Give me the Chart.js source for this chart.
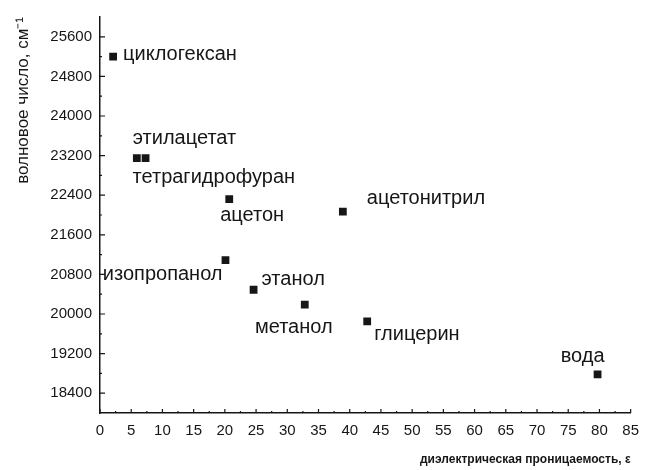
<!DOCTYPE html>
<html>
<head>
<meta charset="utf-8">
<script src="https://cdn.jsdelivr.net/npm/chart.js@4.4.1/dist/chart.umd.min.js"></script>
<style>
  html, body { margin: 0; padding: 0; background: #fff; }
  canvas { display: block; }
</style>
</head>
<body>
<canvas id="myChart" width="648" height="470"></canvas>
<script>
// solvents, dielectric constant and absorption band position
const solvents = ['циклогексан', 'этилацетат', 'тетрагидрофуран', 'ацетон', 'ацетонитрил',
                  'изопропанол', 'этанол', 'метанол', 'глицерин', 'вода'];
const dielectric = [2.1, 5.9, 7.3, 20.7, 38.9, 20.1, 24.6, 32.8, 42.8, 79.7];
const wavenumber = [25200, 23150, 23150, 22320, 22070, 21090, 20490, 20190, 19850, 18780];

const xTicks = [0, 5, 10, 15, 20, 25, 30, 35, 40, 45, 50, 55, 60, 65, 70, 75, 80, 85];
const yTicks = [18400, 19200, 20000, 20800, 21600, 22400, 23200, 24000, 24800, 25600];

// where each label sits relative to its marker: [dx, dy, align]
const labelPlace = [
    [10, -2, 'left'],
    [-4, -20, 'left'],
    [-13, 19, 'left'],
    [-9, 16, 'left'],
    [24, -13, 'left'],
    [-3, 14, 'right'],
    [8, -10, 'left'],
    [-11, 23, 'center'],
    [7, 13, 'left'],
    [-15, -18, 'center']
];

const ink = '#161616';
const family = '"Liberation Sans", Arial, sans-serif';

const pointLabels = {
    id: 'pointLabels',
    afterDatasetsDraw(chart) {
        const c = chart.ctx;
        const meta = chart.getDatasetMeta(0);
        c.save();
        c.fillStyle = ink;
        c.font = '20px ' + family;
        c.textBaseline = 'middle';
        meta.data.forEach((pt, i) => {
            const p = labelPlace[i];
            c.textAlign = p[2];
            c.fillText(solvents[i], pt.x + p[0], pt.y + p[1]);
        });
        c.restore();
    }
};

// ticks drawn inward, like the original figure
const innerTicks = {
    id: 'innerTicks',
    afterDraw(chart) {
        const c = chart.ctx;
        const xs = chart.scales.x, ys = chart.scales.y;
        const area = chart.chartArea;
        c.save();
        c.strokeStyle = ink;
        c.lineWidth = 1.2;
        c.beginPath();
        xTicks.forEach((v, i) => {
            const px = xs.getPixelForValue(v);
            c.moveTo(px, area.bottom); c.lineTo(px, area.bottom - 4);
            if (i < xTicks.length - 1) {
                const mx = xs.getPixelForValue((v + xTicks[i + 1]) / 2);
                c.moveTo(mx, area.bottom); c.lineTo(mx, area.bottom - 2);
            }
        });
        yTicks.forEach((v, i) => {
            const py = ys.getPixelForValue(v);
            c.moveTo(area.left, py); c.lineTo(area.left + 5, py);
            if (i < yTicks.length - 1) {
                const my = ys.getPixelForValue((v + yTicks[i + 1]) / 2);
                c.moveTo(area.left, my); c.lineTo(area.left + 2, my);
            }
        });
        c.stroke();
        c.restore();
    }
};

const ctx = document.getElementById('myChart').getContext('2d');
new Chart(ctx, {
    type: 'scatter',
    data: {
        datasets: [{
            data: dielectric.map((x, i) => ({ x: x, y: wavenumber[i] })),
            pointStyle: 'rect',
            pointRadius: 5.5,
            backgroundColor: ink,
            borderColor: ink,
            borderWidth: 0
        }]
    },
    options: {
        responsive: false,
        animation: false,
        layout: { padding: { left: 0, top: 15, right: 15, bottom: 0 } },
        plugins: {
            legend: { display: false },
            tooltip: { enabled: false }
        },
        scales: {
            x: {
                type: 'linear',
                min: 0,
                max: 85,
                afterBuildTicks: s => { s.ticks = xTicks.map(v => ({ value: v })); },
                afterFit: s => { s.height = 57; },
                border: { color: ink, width: 1.5 },
                grid: { drawOnChartArea: false, drawTicks: false },
                ticks: {
                    color: ink,
                    padding: 9,
                    maxRotation: 0,
                    callback: v => String(v),
                    font: { family: family, size: 15 }
                },
                title: {
                    display: true,
                    text: 'диэлектрическая проницаемость, ε',
                    align: 'end',
                    color: ink,
                    padding: { top: 0, bottom: 3 },
                    font: { family: family, size: 12, weight: 'bold' }
                }
            },
            y: {
                type: 'linear',
                min: 18000,
                max: 26000,
                afterBuildTicks: s => { s.ticks = yTicks.map(v => ({ value: v })); },
                afterFit: s => { s.width = 100; },
                border: { color: ink, width: 1.5 },
                grid: { drawOnChartArea: false, drawTicks: false },
                ticks: {
                    color: ink,
                    padding: 8,
                    callback: v => String(v),
                    font: { family: family, size: 15 }
                },
                title: {
                    display: true,
                    text: 'волновое число, см⁻¹',
                    align: 'end',
                    color: ink,
                    padding: { top: 13, bottom: 0 },
                    font: { family: family, size: 17 }
                }
            }
        }
    },
    plugins: [pointLabels, innerTicks]
});
</script>
</body>
</html>
